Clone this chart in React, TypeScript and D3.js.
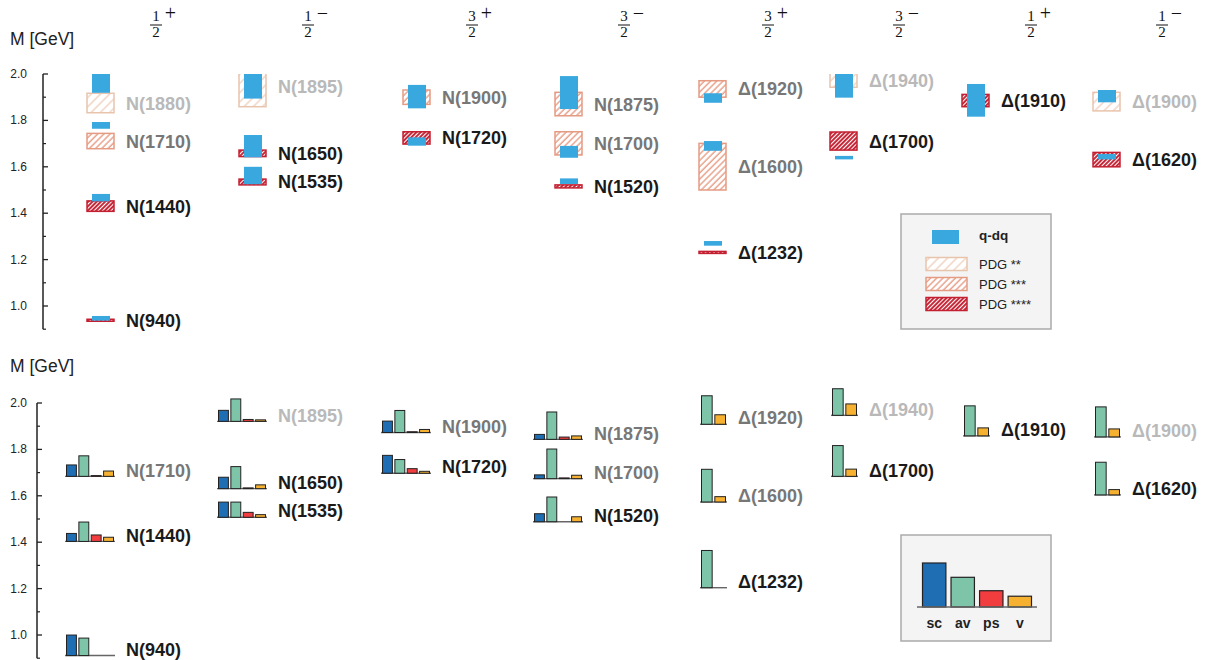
import React from 'react';
import * as d3 from 'd3';

// ---- column headers (J^P) ----
const colNumerator = ['1', '1', '3', '3', '3', '3', '1', '1'];
const colDenominator = ['2', '2', '2', '2', '2', '2', '2', '2'];
const colParity = ['+', '−', '+', '−', '+', '−', '+', '−'];

// ---- states ----
const stateNames = [
  'N(940)', 'N(1440)', 'N(1710)', 'N(1880)',
  'N(1535)', 'N(1650)', 'N(1895)',
  'N(1720)', 'N(1900)',
  'N(1520)', 'N(1700)', 'N(1875)',
  'Δ(1232)', 'Δ(1600)', 'Δ(1920)',
  'Δ(1700)', 'Δ(1940)',
  'Δ(1910)',
  'Δ(1620)', 'Δ(1900)',
];
const stateColumn = [0, 0, 0, 0, 1, 1, 1, 2, 2, 3, 3, 3, 4, 4, 4, 5, 5, 6, 7, 7];
const stateStars = [4, 4, 3, 2, 4, 4, 2, 4, 3, 4, 3, 3, 4, 3, 3, 4, 2, 4, 4, 2];

// PDG mass ranges [GeV]
const pdgLow = [0.9375, 1.408, 1.678, 1.833, 1.522, 1.644, 1.859, 1.698, 1.869, 1.509, 1.651, 1.820, 1.229, 1.500, 1.900, 1.672, 1.943, 1.859, 1.600, 1.841];
const pdgHigh = [0.9395, 1.453, 1.744, 1.917, 1.547, 1.672, 2.037, 1.751, 1.931, 1.522, 1.751, 1.921, 1.233, 1.701, 1.971, 1.750, 2.005, 1.912, 1.662, 1.921];

// quark-diquark mass ranges [GeV]
const qdqLow = [0.937, 1.451, 1.764, 1.919, 1.525, 1.641, 1.894, 1.691, 1.852, 1.526, 1.639, 1.849, 1.260, 1.669, 1.876, 1.632, 1.898, 1.816, 1.632, 1.878];
const qdqHigh = [0.957, 1.483, 1.793, 2.030, 1.600, 1.737, 2.030, 1.727, 1.953, 1.550, 1.690, 1.991, 1.280, 1.711, 1.917, 1.647, 2.030, 1.957, 1.655, 1.931];

// diquark content (fractions); null = not present
const fracSc = [0.54, 0.21, 0.30, null, 0.40, 0.30, 0.29, 0.47, 0.30, 0.21, 0.10, 0.13, null, null, null, null, null, null, null, null];
const fracAv = [0.46, 0.51, 0.54, null, 0.40, 0.58, 0.59, 0.36, 0.58, 0.65, 0.78, 0.72, 0.98, 0.86, 0.75, 0.81, 0.70, 0.79, 0.86, 0.79];
const fracPs = [0, 0.17, 0.02, null, 0.13, 0.02, 0.05, 0.12, 0.02, 0, 0.02, 0.06, null, null, null, null, null, null, null, null];
const fracV = [0, 0.11, 0.14, null, 0.07, 0.10, 0.04, 0.05, 0.08, 0.13, 0.09, 0.09, 0, 0.14, 0.25, 0.19, 0.30, 0.21, 0.14, 0.21];

// axis ticks
const majorTicks = [1.0, 1.2, 1.4, 1.6, 1.8, 2.0];
const minorTicks = [0.9, 1.1, 1.3, 1.5, 1.7, 1.9];

// legends
const diquarkKeys = ['sc', 'av', 'ps', 'v'];
const diquarkColors = ['#1f6db3', '#7dc4a9', '#f23d3f', '#f6b131'];
const legendBarValues = [1.0, 0.675, 0.37, 0.245];
const pdgLegendLabels = ['PDG **', 'PDG ***', 'PDG ****'];
const pdgLegendStars = [2, 3, 4];

// ---- layout (not data) ----
const colLeft = [87, 239, 403, 555, 699, 830, 962, 1093];
const FONT = '"Liberation Sans", Arial, Helvetica, sans-serif';
const SERIF = '"Liberation Serif", "DejaVu Serif", serif';

const starStroke: Record<number, string> = { 2: '#e9c4ad', 3: '#e59a82', 4: '#c41f30' };
const starText: Record<number, string> = { 2: '#b9b9b9', 3: '#777777', 4: '#1a1a1a' };

export default function App() {
  const W = 1208;
  const H = 660;
  const yTop = d3.scaleLinear().domain([0.9, 2.0]).range([329.2, 74]);
  const yBot = d3.scaleLinear().domain([0.9, 2.0]).range([658.2, 403]);
  const hBar = d3.scaleLinear().domain([0, 1]).range([0, 38]);
  const hLeg = d3.scaleLinear().domain([0, 1]).range([0, 44]);
  const blue = '#38a8df';

  const axis = (x: number, y: d3.ScaleLinear<number, number>, labelY: number) => (
    <g>
      <line x1={x} x2={x} y1={y(2.0)} y2={y(0.9)} stroke="#222" strokeWidth={1.5} />
      {majorTicks.map((t) => (
        <g key={'M' + t}>
          <line x1={x} x2={x + 5} y1={y(t)} y2={y(t)} stroke="#222" strokeWidth={1.3} />
          <text x={27} y={y(t) + 4} textAnchor="end" fontSize={12} fontFamily={FONT} fill="#222">
            {d3.format('.1f')(t)}
          </text>
        </g>
      ))}
      {minorTicks.map((t) => (
        <line key={'m' + t} x1={x} x2={x + 3} y1={y(t)} y2={y(t)} stroke="#222" strokeWidth={1.2} />
      ))}
      <text x={10} y={labelY} fontSize={17.5} fontFamily={FONT} fill="#222">M [GeV]</text>
    </g>
  );

  const legBand = d3.scaleBand<string>().domain(diquarkKeys).range([922.5, 1031.5]).paddingInner(0.18);

  return (
    <svg width={W} height={H} style={{ position: 'absolute', left: 0, top: 0, background: '#fff' }}>
      <defs>
        <pattern id="hatch2" patternUnits="userSpaceOnUse" width={6.5} height={6.5} patternTransform="rotate(45)">
          <rect width={6.5} height={6.5} fill="#fff" />
          <line x1={1} x2={1} y1={0} y2={6.5} stroke="#eac6b0" strokeWidth={1.1} />
        </pattern>
        <pattern id="hatch3" patternUnits="userSpaceOnUse" width={4.4} height={4.4} patternTransform="rotate(45)">
          <rect width={4.4} height={4.4} fill="#fff" />
          <line x1={1} x2={1} y1={0} y2={4.4} stroke="#e7967d" strokeWidth={1.3} />
        </pattern>
        <pattern id="hatch4" patternUnits="userSpaceOnUse" width={3} height={3} patternTransform="rotate(45)">
          <rect width={3} height={3} fill="#fff" />
          <line x1={1} x2={1} y1={0} y2={3} stroke="#c41f30" strokeWidth={1.9} />
        </pattern>
        <clipPath id="topClip">
          <rect x={0} y={yTop(2.0)} width={W} height={300} />
        </clipPath>
      </defs>

      {/* column headers */}
      {colLeft.map((cx0, i) => {
        const c = cx0 + 69;
        return (
          <g key={'h' + i} fontFamily={SERIF} fill="#111">
            <text x={c} y={21} textAnchor="middle" fontSize={15}>{colNumerator[i]}</text>
            <line x1={c - 6} x2={c + 6} y1={25} y2={25} stroke="#111" strokeWidth={1} />
            <text x={c} y={37} textAnchor="middle" fontSize={15}>{colDenominator[i]}</text>
            <text x={c + 14.5} y={19.5} textAnchor="middle" fontSize={20}>{colParity[i]}</text>
          </g>
        );
      })}

      {/* ===== top panel ===== */}
      {axis(43, yTop, 45)}
      <g clipPath="url(#topClip)">
        {stateNames.map((name, i) => {
          const x0 = colLeft[stateColumn[i]];
          const s = stateStars[i];
          const yHi = yTop(pdgHigh[i]);
          const yLo = yTop(pdgLow[i]);
          const h = Math.max(yLo - yHi, 2);
          const qHi = yTop(qdqHigh[i]);
          const qLo = yTop(qdqLow[i]);
          return (
            <g key={'t' + name}>
              <rect x={x0} y={(yHi + yLo) / 2 - h / 2} width={27} height={h}
                fill={`url(#hatch${s})`} stroke={starStroke[s]} strokeWidth={1.5} />
              <rect x={x0 + 5} y={qHi} width={18} height={qLo - qHi} fill={blue} />
            </g>
          );
        })}
      </g>
      {stateNames.map((name, i) => {
        const x0 = colLeft[stateColumn[i]];
        const yMid = yTop((pdgLow[i] + pdgHigh[i]) / 2);
        return (
          <text key={'tl' + name} x={x0 + 39} y={yMid + 6.5} fontSize={18} fontWeight="bold"
            fontFamily={FONT} fill={starText[stateStars[i]]}>{name}</text>
        );
      })}

      {/* top legend */}
      <g fontFamily={FONT}>
        <rect x={901} y={214} width={150} height={115} fill="#f4f4f4" stroke="#aaa" strokeWidth={1.5} />
        <rect x={932} y={230} width={27} height={14} fill={blue} />
        <text x={979} y={240} fontSize={13.5} fontWeight="bold" fill="#222">q-dq</text>
        {pdgLegendLabels.map((lab, k) => (
          <g key={lab}>
            <rect x={926} y={257.5 + k * 20} width={41} height={13}
              fill={`url(#hatch${pdgLegendStars[k]})`} stroke={starStroke[pdgLegendStars[k]]} strokeWidth={1.5} />
            <text x={979} y={269 + k * 20} fontSize={13} fill="#222">{lab}</text>
          </g>
        ))}
      </g>

      {/* ===== bottom panel ===== */}
      {axis(37, yBot, 372)}
      {stateNames.map((name, i) => {
        if (fracAv[i] === null) return null;
        const col = stateColumn[i];
        const right = colLeft[col] + 28;
        const yMid = yBot((pdgLow[i] + pdgHigh[i]) / 2);
        const base = yMid + 6.3;
        const isN = fracSc[i] !== null;
        const keys = isN ? diquarkKeys : ['av', 'v'];
        const vals = isN
          ? [fracSc[i], fracAv[i], fracPs[i], fracV[i]]
          : [fracAv[i], fracV[i]];
        const width = isN ? 50 : 27;
        const gx0 = right - width;
        const band = d3.scaleBand<string>().domain(keys).range([gx0 + 1.5, right - 1.5]).paddingInner(0.2);
        return (
          <g key={'b' + name}>
            <line x1={gx0} x2={right} y1={base} y2={base} stroke="#666" strokeWidth={1.4} />
            {keys.map((k, j) => {
              const v = vals[j] as number;
              if (!v) return null;
              const h = hBar(v);
              return (
                <rect key={k} x={band(k)} y={base - h} width={band.bandwidth()} height={h}
                  fill={diquarkColors[diquarkKeys.indexOf(k)]} stroke="#222" strokeWidth={1} />
              );
            })}
            <text x={colLeft[col] + 39} y={yMid + 6.5} fontSize={18} fontWeight="bold"
              fontFamily={FONT} fill={starText[stateStars[i]]}>{name}</text>
          </g>
        );
      })}

      {/* bottom legend */}
      <g fontFamily={FONT}>
        <rect x={901} y={535} width={150} height={106} fill="#f4f4f4" stroke="#aaa" strokeWidth={1.5} />
        {diquarkKeys.map((k, j) => {
          const h = hLeg(legendBarValues[j]);
          return (
            <g key={'lg' + k}>
              <rect x={legBand(k)} y={607 - h} width={legBand.bandwidth()} height={h}
                fill={diquarkColors[j]} stroke="#222" strokeWidth={1.2} />
              <text x={(legBand(k) as number) + legBand.bandwidth() / 2} y={628} textAnchor="middle"
                fontSize={14} fontWeight="bold" fill="#222">{k}</text>
            </g>
          );
        })}
        <line x1={917} x2={1037} y1={607} y2={607} stroke="#666" strokeWidth={1.4} />
      </g>
    </svg>
  );
}
